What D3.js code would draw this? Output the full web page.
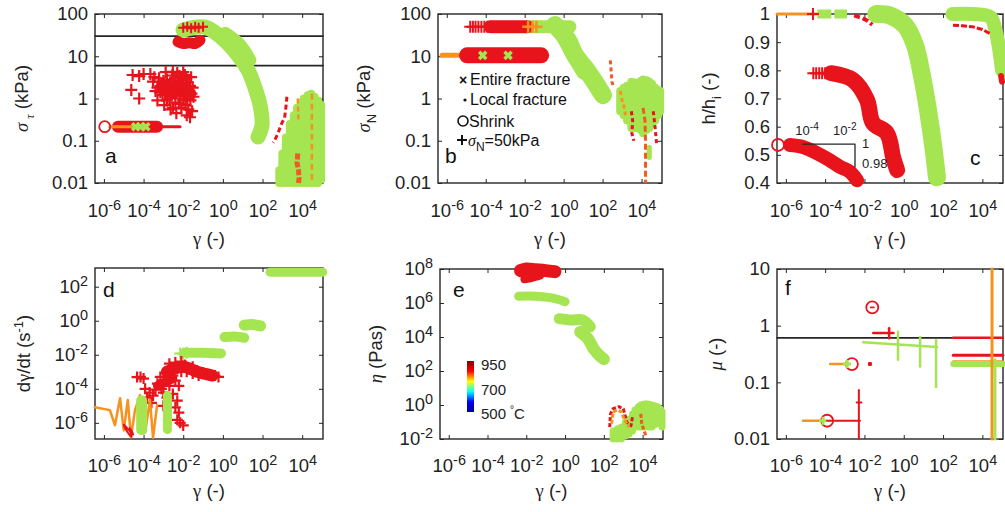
<!DOCTYPE html>
<html>
<head>
<meta charset="utf-8">
<script src="https://cdn.jsdelivr.net/npm/d3@7"></script>
<style>
  body { margin: 0; background: #fff; }
</style>
</head>
<body>
<div id="fig"></div>
<script>
// =============================================
// data
const xTicks  = [1e-6, 1e-4, 1e-2, 1, 1e2, 1e4];
const aTicksY = [0.01, 0.1, 1, 10, 100];
const bTicksY = [0.01, 0.1, 1, 10, 100];
const cTicksY = [0.4, 0.5, 0.6, 0.7, 0.8, 0.9, 1];
const dTicksY = [1e-6, 1e-4, 1e-2, 1, 1e2];
const eTicksY = [1e-2, 1, 1e2, 1e4, 1e6, 1e8];
const fTicksY = [0.01, 0.1, 1, 10];
const cbLabels = ['950', '700', '500'];
const legendItems = ['Entire fracture', 'Local fracture', 'Shrink', '=50kPa'];

// panel a : shear stress
const aRefLines   = [30, 6];
const aShrink     = [[1.1e-6, 0.215]];
const aOrange     = [[2e-6, 0.215], [6.6e-5, 0.215]];
const aRedCapsule = [[5.1e-6, 0.215], [2e-5, 0.215], [1e-4, 0.215], [4.8e-4, 0.215]];
const aRedTail    = [[4.8e-4, 0.215], [6.9e-3, 0.215]];
const aGreenX     = [[4e-5, 0.215], [7e-5, 0.215], [1.3e-4, 0.215]];
const aRedPlus    = [[2.8e-5, 3.6], [2.4e-5, 1.6], [6e-5, 1.0], [6e-5, 3.4], [1e-4, 3.8],
  [2.2e-4, 3.8], [3e-4, 2.5], [4e-4, 1.5], [5e-4, 0.9], [6e-4, 3.0], [8e-4, 2.0], [9e-4, 1.2],
  [1.1e-3, 0.7], [1.3e-3, 4.2], [1.5e-3, 2.8], [1.8e-3, 1.7], [2e-3, 1.0], [2.3e-3, 0.55],
  [2.8e-3, 3.5], [3.2e-3, 2.2], [3.6e-3, 1.4], [4e-3, 0.8], [4.5e-3, 0.45], [5e-3, 4.0],
  [5.5e-3, 2.6], [6e-3, 1.6], [7e-3, 1.0], [8e-3, 0.6], [9e-3, 3.0], [1e-2, 1.9], [1.1e-2, 1.2],
  [1.3e-2, 0.7], [1.5e-2, 0.4], [1.7e-2, 2.4], [2e-2, 1.5], [2.3e-2, 0.9], [2.8e-2, 0.5],
  [3e-2, 1.8], [3.3e-2, 1.1], [2.5e-2, 3.2], [1.2e-2, 3.6], [6.5e-3, 3.4], [2.5e-3, 1.3],
  [1e-3, 2.6], [5e-4, 1.8], [1.5e-3, 0.9], [3e-3, 0.6], [8e-3, 2.3], [1.6e-2, 1.0], [2.2e-2, 0.36],
  [3.5e-4, 3.2], [7e-4, 1.4], [1.2e-3, 1.3], [2.2e-3, 2.4], [4e-3, 3.0], [4.5e-3, 1.9], [6e-3, 0.75],
  [1e-2, 0.9], [1.4e-2, 2.9], [2.2e-2, 2.0], [2.6e-2, 1.3], [1.8e-2, 0.55], [1e-2, 4.2], [3e-3, 4.3]];
const aRedBody    = [[1e-3, 2.0], [3e-3, 1.5], [8e-3, 1.6], [2e-2, 1.3]];
const aRedTop     = [[5.5e-3, 22], [1e-2, 20], [2e-2, 21], [4e-2, 20], [7e-2, 24]];
const aRedTopPlus = [[1e-2, 47], [1.6e-2, 50], [2.5e-2, 46], [4e-2, 50], [6e-2, 47], [0.1, 50]];
const aGreenBand  = [[9.8e-3, 42], [0.126, 49], [0.9, 27], [5.7, 10.7], [18.5, 4.7], [37, 2.1], [74, 0.71], [94, 0.235], [59, 0.123]];
const aGreenBand2 = [[1.28, 35], [7.2, 18.6], [23, 8.1]];
const aRedDash    = [[1700, 1.1], [1500, 0.6], [1300, 0.35], [900, 0.25], [600, 0.15], [400, 0.1], [340, 0.09]];
const aRedBottom  = [[6000, 0.05], [5500, 0.03], [6500, 0.02], [7000, 0.013], [6500, 0.01]];
const aGreenColX  = [700, 1000, 1500, 2400, 3800, 5500, 8500, 1.2e4, 1.9e4, 2.8e4, 4.2e4, 6.3e4, 9e4];
const aGreenColLo = [0.01, 0.01, 0.01, 0.01, 0.01, 0.01, 0.01, 0.01, 0.01, 0.01, 0.01, 0.01, 0.012];
const aGreenColHi = [0.02, 0.05, 0.12, 0.25, 0.4, 0.6, 0.8, 1.0, 1.2, 1.3, 1.1, 0.9, 0.7];
const aOrangeDash1 = [[3.1e4, 1.3], [3.1e4, 0.01]];
const aOrangeDash2 = [[6000, 1.0], [6500, 0.3]];

// panel b : normal stress
const bRedPlus50    = [[1.6e-5, 50], [2.2e-5, 50], [3e-5, 50], [4.2e-5, 50], [6e-5, 50], [8.5e-5, 50], [1.2e-4, 50], [1.7e-4, 50]];
const bRedBand50    = [[1.7e-4, 50], [1.4e-2, 50]];
const bOrangePlus50 = [[1.5e-2, 50], [2.5e-2, 50], [4e-2, 50]];
const bGreen50      = [[2e-2, 50], [2.1, 50]];
const bOrange10     = [[5.8e-7, 10.5], [1.1e-5, 10.5]];
const bRed10        = [[1.1e-5, 10.5], [1e-4, 10.5], [1e-3, 10.5], [7e-2, 10.5]];
const bGreenX10     = [[7e-5, 10.5], [1.4e-3, 10.5]];
const bGreenBand    = [[0.36, 55], [1.67, 24], [3.8, 10.7], [12.5, 5.3], [41, 2.4], [105, 1.2]];
const bGreenBand2   = [[0.6, 40], [1.5, 18], [4, 8], [10, 4]];
const bDash1 = [[250, 8], [280, 4], [300, 2.5], [350, 2]];
const bDash2 = [[800, 1.5], [1000, 0.9], [1300, 0.6], [1500, 0.4]];
const bDash3 = [[3000, 0.5], [3500, 0.3], [3200, 0.15], [4000, 0.1]];
const bDash4 = [[1.2e4, 0.6], [1.5e4, 0.3], [1.6e4, 0.1], [1.6e4, 0.01]];
const bDash5 = [[4e4, 0.5], [5e4, 0.2], [6e4, 0.08]];
const bGreenColX  = [800, 1200, 1800, 3000, 4500, 6000, 9000, 1.2e4, 1.8e4, 2.5e4, 3.5e4, 5e4, 7e4, 9e4];
const bGreenColLo = [0.5, 0.4, 0.3, 0.2, 0.2, 0.2, 0.18, 0.15, 0.18, 0.2, 0.25, 0.3, 0.4, 0.5];
const bGreenColHi = [1.5, 1.8, 2.0, 2.5, 2.4, 2.2, 2.6, 2.8, 2.7, 2.5, 2.2, 1.8, 1.6, 1.5];
const bGreenLow   = [[2.5e4, 0.07], [2.5e4, 0.04]];

// panel c : relative height
const cOrangeTop  = [[3.6e-7, 1], [3.9e-5, 1]];
const cRedPlusTop = [[2.4e-5, 1]];
const cGreenTop   = [[4e-5, 1], [1.3e-3, 1]];
const cRedDashTop = [[3e-3, 0.995], [8e-3, 0.985], [1.5e-2, 0.975], [2.5e-2, 0.962]];
const cGreenMain  = [[4e-2, 1], [0.2, 0.995], [1.15, 0.96], [3.7, 0.89], [8.5, 0.78], [17, 0.66], [31, 0.535], [49, 0.42]];
const cGreenRight = [[300, 1], [3000, 1], [2.5e4, 0.99], [4.4e4, 0.95], [7e4, 0.88], [1e5, 0.8]];
const cRedRight   = [[320, 0.96], [1000, 0.958], [3000, 0.955], [1e4, 0.945], [2.5e4, 0.93]];
const cRedRight2  = [[9e4, 0.78], [1e5, 0.76]];
const cRedPlus79  = [[2.5e-5, 0.79], [3.5e-5, 0.79], [5e-5, 0.79], [7e-5, 0.79], [1e-4, 0.79], [1.4e-4, 0.79]];
const cRedCurve1  = [[2e-4, 0.79], [2.6e-3, 0.766], [1.35e-2, 0.695], [2.7e-2, 0.613], [0.14, 0.577], [0.29, 0.49], [0.46, 0.446]];
const cRedPlusEnd = [[0.4, 0.446]];
const cShrink     = [[4e-7, 0.535]];
const cRedCurve2  = [[1.6e-6, 0.535], [7.4e-6, 0.528], [3.9e-5, 0.506], [1.8e-4, 0.48], [5.7e-4, 0.457], [1.8e-3, 0.44], [4.2e-3, 0.41]];
const cInsetLine  = [[7.4e-6, 0.538], [3.3e-3, 0.538], [3.3e-3, 0.457]];

// panel d : shear rate
const dGreenTop  = [[240, 720], [1.1e5, 720]];
const dGreen1    = [[12, 0.55], [30, 0.6], [80, 0.5]];
const dGreen2    = [[1.2, 0.11], [4, 0.12], [12, 0.1]];
const dGreen3    = [[1.2e-2, 0.013], [0.1, 0.013], [0.8, 0.012]];
const dGreenPlus = [[7e-3, 0.012], [1e-2, 0.012], [1.5e-2, 0.013]];
const dRedPlus   = [[4.7e-5, 4.9e-4], [7e-5, 5e-4], [1e-4, 4e-4], [1.2e-4, 1e-4], [2e-4, 6e-5],
  [3e-4, 4e-5], [1.5e-4, 3e-5], [2.5e-4, 1.5e-5], [5e-4, 2e-4], [8e-4, 1e-4], [1e-3, 3e-4],
  [1.5e-3, 8e-4], [2e-3, 1.5e-3], [3e-3, 6e-4], [5e-3, 2e-3], [8e-3, 1e-3], [1.2e-2, 2.5e-3],
  [2e-2, 1.5e-3], [3e-2, 8e-4], [5e-2, 1.2e-3], [0.1, 9e-4], [0.2, 7e-4], [0.4, 6e-4], [0.6, 5e-4],
  [4e-3, 3e-4], [6e-3, 1.5e-4], [3e-3, 5e-5], [5e-3, 2e-5], [4e-3, 8e-6], [6e-3, 4e-6],
  [5e-3, 1.5e-6], [7e-3, 1e-6], [1e-2, 7e-7], [1.5e-3, 3e-5], [1e-3, 1e-5],
  [2e-3, 3e-3], [4e-3, 3.5e-3], [8e-3, 4e-3], [1.5e-2, 1e-3], [3e-2, 2e-3], [6e-2, 6e-4],
  [2e-3, 4e-4], [7e-4, 5e-4], [4e-4, 9e-5], [1e-3, 6e-5], [2e-3, 1.5e-4]];
const dRedBody1  = [[1.5e-3, 1e-3], [1e-2, 2e-3], [0.05, 1e-3], [0.3, 6e-4]];
const dRedBody2  = [[5e-4, 1.5e-4], [3e-3, 4e-4]];
const dOrange    = [[3.5e-7, 8.3e-6], [2e-6, 5.6e-6], [3.6e-6, 7.2e-7], [6.5e-6, 2.8e-5], [1e-5, 3.6e-7],
  [1.6e-5, 2.2e-5], [2.3e-5, 1.4e-7], [3.7e-5, 5.6e-6], [6.6e-5, 4.3e-5], [1.2e-4, 2.8e-7],
  [2.1e-4, 2.2e-5], [3e-4, 1.3e-7], [4.8e-4, 1.1e-5]];
const dGreenV1   = [[8e-5, 2e-5], [8e-5, 4e-7]];
const dGreenV2   = [[1.6e-3, 4e-5], [1.6e-3, 4e-7]];
const dRedLoops  = [[1e-5, 8e-7], [1.5e-5, 3e-7], [2.5e-5, 1.5e-7], [2e-5, 5e-7], [3e-5, 2e-7]];

// panel e : viscosity
const eRed1      = [[5e-3, 8e7], [1e-2, 1e8], [3e-2, 9e7], [0.1, 8e7], [0.3, 7e7]];
const eRed2      = [[8e-3, 2.5e7], [2e-2, 3e7], [5e-2, 4e7]];
const eGreen1    = [[4e-3, 2.5e6], [3e-2, 2.5e6], [0.2, 2e6], [1, 1.2e6]];
const eGreen2    = [[0.5, 1.2e5], [2, 1e5], [8, 1e5], [20, 4e4]];
const eGreen3    = [[6, 2e4], [15, 8e3], [30, 2e3], [60, 800], [100, 500]];
const eRedLoop   = [[200, 0.05], [220, 0.3], [300, 0.6], [600, 0.8], [1000, 0.6], [1200, 0.3], [1500, 0.1], [2500, 0.06], [3000, 0.2]];
const eOrangeLoop = [[250, 0.08], [300, 0.4], [500, 0.5], [800, 0.4], [1100, 0.15], [2000, 0.05]];
const eRed3      = [[8000, 0.3], [9000, 0.08], [1.2e4, 0.03], [1.5e4, 0.015]];
const eGreenColX  = [300, 500, 800, 1300, 2000, 3000, 4000, 6000, 8000, 1.1e4, 1.5e4, 2.1e4, 3e4, 4.2e4, 6e4, 8e4, 1e5];
const eGreenColLo = [0.01, 0.01, 0.01, 0.015, 0.02, 0.03, 0.05, 0.05, 0.05, 0.05, 0.05, 0.05, 0.05, 0.07, 0.1, 0.08, 0.05];
const eGreenColHi = [0.03, 0.04, 0.05, 0.1, 0.15, 0.3, 0.5, 0.8, 1, 1.1, 1.2, 1.1, 1, 0.9, 0.8, 0.6, 0.4];

// panel f : friction coefficient
const fRefLine   = 0.61;
const fShrink    = [[2.5e-2, 2.1], [2.3e-3, 0.21], [1.26e-4, 0.021]];
const fRedH1     = [[2.8e-2, 0.74], [0.3, 0.74]];
const fRedV1     = [[0.18, 0.9], [0.18, 0.6]];
const fGreenH    = [[8.6e-3, 0.51], [49, 0.42]];
const fGreenColX  = [0.51, 6.8, 44];
const fGreenColLo = [0.25, 0.19, 0.083];
const fGreenColHi = [0.78, 0.63, 0.56];
const fOrangeMid = [[1.8e-4, 0.21], [1.3e-3, 0.21]];
const fRedDot    = [[1.9e-2, 0.21]];
const fOrangeLow = [[7.4e-6, 0.021], [7.8e-5, 0.021]];
const fGreenMark = [[7.8e-5, 0.021], [1.3e-3, 0.21]];
const fRedLow    = [[1.26e-4, 0.021], [5.9e-3, 0.021]];
const fRedLowV   = [[5.2e-3, 0.073], [5.2e-3, 0.01]];
const fRedLowT   = [[4e-3, 0.044], [7e-3, 0.044]];
const fRedR1     = [[320, 0.61], [1.1e5, 0.61]];
const fRedR2     = [[330, 0.30], [1.1e5, 0.30]];
const fOrangeR   = [[330, 0.23], [1.1e5, 0.23]];
const fGreenR    = [[330, 0.21], [1.1e5, 0.21]];
const fVertOr    = [[3.1e4, 0.01], [3.1e4, 10]];
const fVertGr    = [[4.4e4, 0.01], [4.4e4, 0.25]];

// =============================================
// styles
const FONT   = '"Liberation Sans", Arial, sans-serif';
const SERIF  = '"Liberation Serif", "DejaVu Serif", serif';
const AX     = '#262626';
const RED    = '#e8141c';
const GREEN  = '#a6e552';
const ORANGE = '#f7921e';
const ORRED  = '#f15a22';

const svg = d3.select('#fig').append('svg')
  .attr('width', 1005).attr('height', 512)
  .style('font-family', FONT);

const xDom = [Math.pow(10, -6.45), Math.pow(10, 5.05)];

// aux functions
function supLabel(sel) {
  sel.each(function (d) {
    const t = d3.select(this);
    const e = Math.round(Math.log10(d));
    t.text(null);
    t.append('tspan').text('10');
    t.append('tspan').attr('dy', '-0.5em').attr('font-size', '0.78em').text(e);
  });
}

function panel(x0, x1, y0, y1, yScale, yTicks, yFmt, xPad) {
  const p = { g: svg.append('g') };
  p.x = d3.scaleLog().domain(xDom).range([x0, x1]);
  p.y = yScale.range([y1, y0]);

  p.g.append('rect')
    .attr('x', x0).attr('y', y0).attr('width', x1 - x0).attr('height', y1 - y0)
    .attr('fill', 'none').attr('stroke', AX).attr('stroke-width', 1.4);

  const style = ax => {
    ax.select('.domain').remove();
    ax.attr('font-size', 18.5).attr('font-family', FONT);
    ax.selectAll('.tick line').attr('stroke', AX).attr('stroke-width', 1);
    ax.selectAll('.tick text').attr('fill', '#222');
  };

  p.g.append('g').attr('transform', `translate(0,${y1})`)
    .call(d3.axisBottom(p.x).tickValues(xTicks).tickSizeInner(-4).tickSizeOuter(0).tickPadding(xPad))
    .call(style)
    .call(ax => ax.selectAll('.tick text').call(supLabel));
  p.g.append('g').attr('transform', `translate(0,${y0})`)
    .call(d3.axisTop(p.x).tickValues(xTicks).tickSizeInner(-4).tickSizeOuter(0).tickFormat(''))
    .call(style);

  const ly = p.g.append('g').attr('transform', `translate(${x0},0)`)
    .call(d3.axisLeft(p.y).tickValues(yTicks).tickSizeInner(-4).tickSizeOuter(0).tickPadding(7)
      .tickFormat(yFmt === 'sup' ? d => d : yFmt))
    .call(style);
  if (yFmt === 'sup') ly.selectAll('.tick text').call(supLabel);
  p.g.append('g').attr('transform', `translate(${x1},0)`)
    .call(d3.axisRight(p.y).tickValues(yTicks).tickSizeInner(-4).tickSizeOuter(0).tickFormat(''))
    .call(style);

  p.m = p.g.append('g');
  return p;
}

function line(p, pts, color, w, dash, curve) {
  p.m.append('path').datum(pts)
    .attr('d', d3.line().x(d => p.x(d[0])).y(d => p.y(d[1])).curve(curve || d3.curveLinear))
    .attr('fill', 'none').attr('stroke', color).attr('stroke-width', w)
    .attr('stroke-linecap', dash ? 'butt' : 'round').attr('stroke-linejoin', 'round')
    .attr('stroke-dasharray', dash || null);
}

function cols(p, xs, lo, hi, color, w) {
  p.m.selectAll(null).data(xs).enter().append('line')
    .attr('x1', d => p.x(d)).attr('x2', d => p.x(d))
    .attr('y1', (d, i) => p.y(lo[i])).attr('y2', (d, i) => p.y(hi[i]))
    .attr('stroke', color).attr('stroke-width', w).attr('stroke-linecap', 'round');
}

function plus(p, pts, color, s, w, rot) {
  p.m.selectAll(null).data(pts).enter().append('path')
    .attr('transform', d => `translate(${p.x(d[0])},${p.y(d[1])}) rotate(${rot || 0})`)
    .attr('d', `M${-s},0H${s}M0,${-s}V${s}`)
    .attr('stroke', color).attr('stroke-width', w).attr('fill', 'none');
}

function circ(p, pts, color, r, w) {
  p.m.selectAll(null).data(pts).enter().append('circle')
    .attr('cx', d => p.x(d[0])).attr('cy', d => p.y(d[1])).attr('r', r)
    .attr('fill', 'none').attr('stroke', color).attr('stroke-width', w);
}

function letter(p, t, x, y) {
  p.g.append('text').attr('x', x).attr('y', y).attr('font-size', 21).attr('fill', '#111').text(t);
}

function xTitle(p, y) {
  const r = p.x.range();
  const t = p.g.append('text').attr('x', (r[0] + r[1]) / 2).attr('y', y)
    .attr('text-anchor', 'middle').attr('font-size', 18.5).attr('fill', '#222');
  t.append('tspan').attr('font-family', SERIF).text('γ');
  t.append('tspan').text(' (-)');
}

function yTitle(p, x, build) {
  const r = p.y.range();
  const cy = (r[0] + r[1]) / 2;
  const t = p.g.append('text').attr('transform', `translate(${x},${cy}) rotate(-90)`)
    .attr('text-anchor', 'middle').attr('font-size', 18.5).attr('fill', '#222');
  build(t);
}

// =============================================
// panels
const pa = panel(95, 323, 14, 183, d3.scaleLog().domain([0.01, 100]), aTicksY, d => String(d), 21);
const pb = panel(438, 662, 14, 183, d3.scaleLog().domain([0.01, 100]), bTicksY, d => String(d), 21);
const pc = panel(777, 1003, 14, 183, d3.scaleLinear().domain([0.4, 1]), cTicksY, d => String(d), 21);
const pd = panel(95, 323, 268, 439, d3.scaleLog().domain([Math.pow(10, -6.95), Math.pow(10, 3.1)]), dTicksY, 'sup', 20);
const pe = panel(440, 663, 269, 439, d3.scaleLog().domain([1e-2, 1e8]), eTicksY, 'sup', 20);
const pf = panel(777, 1003, 269, 439, d3.scaleLog().domain([0.01, 10]), fTicksY, d => String(d), 20);

// ---- a
aRefLines.forEach(v => line(pa, [[xDom[0], v], [xDom[1], v]], AX, 1.6));
line(pa, aGreenBand, GREEN, 15, null, d3.curveCatmullRom);
line(pa, aGreenBand2, GREEN, 13, null, d3.curveCatmullRom);
line(pa, aRedTop, RED, 11, null, d3.curveCatmullRom);
plus(pa, aRedTopPlus, RED, 5, 2);
line(pa, aRedBody, RED, 14, null, d3.curveCatmullRom);
plus(pa, aRedPlus, RED, 6, 2.2);
line(pa, aRedTail, RED, 3);
line(pa, aRedCapsule, RED, 12);
line(pa, aOrange, ORANGE, 3);
plus(pa, aGreenX, GREEN, 5, 3.5, 45);
circ(pa, aShrink, RED, 5.5, 1.8);
cols(pa, aGreenColX, aGreenColLo, aGreenColHi, GREEN, 8);
line(pa, aRedDash, RED, 3, '5,3');
line(pa, aRedBottom, ORRED, 5, '6,2');
line(pa, aOrangeDash1, ORANGE, 2.5, '6,4');
line(pa, aOrangeDash2, ORANGE, 2.5, '5,3');
letter(pa, 'a', 105, 163);
xTitle(pa, 245);
yTitle(pa, 28, t => {
  t.append('tspan').attr('font-family', SERIF).attr('font-style', 'italic').text('σ');
  t.append('tspan').attr('font-family', SERIF).attr('font-style', 'italic').attr('font-size', 13).attr('dy', 6).attr('dx', 4).text('τ');
  t.append('tspan').attr('dy', -6).text(' (kPa)');
});

// ---- b
line(pb, bGreen50, GREEN, 13);
line(pb, bRedBand50, RED, 13);
plus(pb, bRedPlus50, RED, 6, 2);
plus(pb, bOrangePlus50, ORANGE, 6, 2.5);
line(pb, bGreenBand, GREEN, 18, null, d3.curveCatmullRom);
line(pb, bGreenBand2, GREEN, 13, null, d3.curveCatmullRom);
line(pb, bOrange10, ORANGE, 5);
line(pb, bRed10, RED, 16);
plus(pb, bGreenX10, GREEN, 5, 3.5, 45);
cols(pb, bGreenColX, bGreenColLo, bGreenColHi, GREEN, 8);
line(pb, bGreenLow, GREEN, 5);
line(pb, bDash1, ORRED, 3, '4,3');
line(pb, bDash2, ORANGE, 3, '4,3');
line(pb, bDash3, RED, 3, '4,3');
line(pb, bDash4, ORRED, 3, '6,3');
line(pb, bDash5, RED, 3, '4,3');
letter(pb, 'b', 445, 163);
xTitle(pb, 245);
yTitle(pb, 370, t => {
  t.append('tspan').attr('font-family', SERIF).attr('font-style', 'italic').text('σ');
  t.append('tspan').attr('font-size', 13).attr('dy', 6).text('N');
  t.append('tspan').attr('dy', -6).text(' (kPa)');
});
// legend
const lg = pb.g.append('g').attr('font-size', 16).attr('fill', '#111');
const lgY = [85, 105, 127, 146];
lg.append('text').attr('x', 459).attr('y', lgY[0]).attr('font-weight', 'bold').attr('font-size', 14).text('×');
lg.append('text').attr('x', 470).attr('y', lgY[0]).text(legendItems[0]);
lg.append('circle').attr('cx', 465).attr('cy', lgY[1] - 5).attr('r', 1.6).attr('fill', '#111');
lg.append('text').attr('x', 470).attr('y', lgY[1]).text(legendItems[1]);
lg.append('circle').attr('cx', 463).attr('cy', lgY[2] - 6).attr('r', 5).attr('fill', 'none').attr('stroke', '#111').attr('stroke-width', 1.6);
lg.append('text').attr('x', 469).attr('y', lgY[2]).text(legendItems[2]);
lg.append('path').attr('d', `M457,${lgY[3] - 6}H467M462,${lgY[3] - 11}V${lgY[3] - 1}`).attr('stroke', '#111').attr('stroke-width', 2);
const lt = lg.append('text').attr('x', 468).attr('y', lgY[3]);
lt.append('tspan').attr('font-family', SERIF).attr('font-style', 'italic').text('σ');
lt.append('tspan').attr('font-size', 12).attr('dy', 5).text('N');
lt.append('tspan').attr('dy', -5).text(legendItems[3]);

// ---- c
line(pc, cOrangeTop, ORANGE, 3);
line(pc, cGreenTop, GREEN, 9, '14,3');
plus(pc, cRedPlusTop, RED, 6, 2);
line(pc, cRedDashTop, RED, 4, '6,3');
line(pc, cGreenMain, GREEN, 18, null, d3.curveCatmullRom);
line(pc, cGreenRight, GREEN, 14, null, d3.curveCatmullRom);
line(pc, cRedRight, RED, 3, '6,2');
line(pc, cRedRight2, RED, 6);
plus(pc, cRedPlus79, RED, 6, 2);
line(pc, cRedCurve1, RED, 16, null, d3.curveCatmullRom);
plus(pc, cRedPlusEnd, RED, 6, 2);
line(pc, cRedCurve2, RED, 14, null, d3.curveCatmullRom);
circ(pc, cShrink, RED, 6, 1.8);
line(pc, cInsetLine, AX, 1.3);
const ci = pc.g.append('g').attr('font-size', 13).attr('fill', '#222');
ci.append('text').attr('x', pc.x(1.2e-5)).attr('y', pc.y(0.57)).attr('text-anchor', 'middle').call(t => t.datum(1e-4).call(supLabel));
ci.append('text').attr('x', pc.x(1e-3)).attr('y', pc.y(0.57)).attr('text-anchor', 'middle').call(t => t.datum(1e-2).call(supLabel));
ci.append('text').attr('x', pc.x(7.6e-3)).attr('y', pc.y(0.524)).text('1');
ci.append('text').attr('x', pc.x(7.6e-3)).attr('y', pc.y(0.453)).text('0.98');
letter(pc, 'c', 970, 165);
xTitle(pc, 245);
yTitle(pc, 715, t => {
  t.append('tspan').text('h/h');
  t.append('tspan').attr('font-size', 13).attr('dy', 6).text('i');
  t.append('tspan').attr('dy', -6).text(' (-)');
});

// ---- d
line(pd, dGreenTop, GREEN, 9);
line(pd, dGreen1, GREEN, 11, null, d3.curveCatmullRom);
line(pd, dGreen2, GREEN, 10, null, d3.curveCatmullRom);
line(pd, dGreen3, GREEN, 10, null, d3.curveCatmullRom);
plus(pd, dGreenPlus, GREEN, 6, 2);
line(pd, dRedBody1, RED, 12, null, d3.curveCatmullRom);
line(pd, dRedBody2, RED, 9);
plus(pd, dRedPlus, RED, 5.5, 2.2);
line(pd, dOrange, ORANGE, 2.5);
line(pd, dGreenV1, GREEN, 11);
line(pd, dGreenV2, GREEN, 9);
line(pd, dRedLoops, RED, 2, null, d3.curveCatmullRomClosed);
letter(pd, 'd', 103, 297);
xTitle(pd, 497);
yTitle(pd, 30, t => {
  t.append('tspan').text('d');
  t.append('tspan').attr('font-family', SERIF).text('γ');
  t.append('tspan').text('/dt (s');
  t.append('tspan').attr('font-size', 13).attr('dy', -7).text('-1');
  t.append('tspan').attr('dy', 7).text(')');
});

// ---- e
line(pe, eRed1, RED, 13, null, d3.curveCatmullRom);
line(pe, eRed2, RED, 8, null, d3.curveCatmullRom);
line(pe, eGreen1, GREEN, 9, null, d3.curveCatmullRom);
line(pe, eGreen2, GREEN, 11, null, d3.curveCatmullRom);
line(pe, eGreen3, GREEN, 12, null, d3.curveCatmullRom);
cols(pe, eGreenColX, eGreenColLo, eGreenColHi, GREEN, 7);
line(pe, eRedLoop, RED, 3, '4,2');
line(pe, eOrangeLoop, ORANGE, 3, '4,2');
line(pe, eRed3, ORRED, 3, '4,2');
letter(pe, 'e', 453, 297);
xTitle(pe, 497);
yTitle(pe, 382, t => {
  t.append('tspan').attr('font-family', SERIF).attr('font-style', 'italic').text('η');
  t.append('tspan').text(' (Pas)');
});
// colour bar
const jet = ['#00008f', '#0000ff', '#00ffff', '#ffff00', '#ff0000', '#800000'];
const grad = svg.append('defs').append('linearGradient').attr('id', 'jet')
  .attr('x1', 0).attr('y1', 1).attr('x2', 0).attr('y2', 0);
jet.forEach((c, i) => grad.append('stop').attr('offset', i / (jet.length - 1)).attr('stop-color', c));
pe.g.append('rect').attr('x', 467).attr('y', 361).attr('width', 7).attr('height', 51).attr('fill', 'url(#jet)');
const cbY = [370, 395, 419];
cbLabels.forEach((s, i) => pe.g.append('text').attr('x', 481).attr('y', cbY[i]).attr('font-size', 15).attr('fill', '#222').text(s));
const deg = pe.g.append('text').attr('x', 510).attr('y', cbY[2]).attr('font-size', 15).attr('fill', '#222');
deg.append('tspan').attr('font-size', 10).attr('dy', -6).text('°');
deg.append('tspan').attr('dy', 6).text('C');

// ---- f
line(pf, [[xDom[0], fRefLine], [xDom[1], fRefLine]], AX, 1.6);
line(pf, fRedR1, RED, 2.5);
line(pf, fRedR2, RED, 3);
line(pf, fOrangeR, ORANGE, 3);
line(pf, fGreenR, GREEN, 6);
line(pf, fVertOr, ORANGE, 3);
line(pf, fVertGr, GREEN, 3);
line(pf, fGreenH, GREEN, 2.5);
cols(pf, fGreenColX, fGreenColLo, fGreenColHi, GREEN, 2.5);
line(pf, fRedH1, RED, 2.5);
line(pf, fRedV1, RED, 2.5);
circ(pf, fShrink, RED, 6, 1.8);
line(pf, [[2.1e-2, 2.1], [3e-2, 2.1]], RED, 1.8);
line(pf, fOrangeMid, ORANGE, 2.5);
line(pf, fOrangeLow, ORANGE, 2.5);
plus(pf, fGreenMark, GREEN, 4, 3);
plus(pf, fRedDot, RED, 2, 3);
line(pf, fRedLow, RED, 2);
line(pf, fRedLowV, RED, 2);
line(pf, fRedLowT, RED, 2);
letter(pf, 'f', 785, 295);
xTitle(pf, 497);
yTitle(pf, 722, t => {
  t.append('tspan').attr('font-family', SERIF).attr('font-style', 'italic').text('μ');
  t.append('tspan').text(' (-)');
});
</script>
</body>
</html>
